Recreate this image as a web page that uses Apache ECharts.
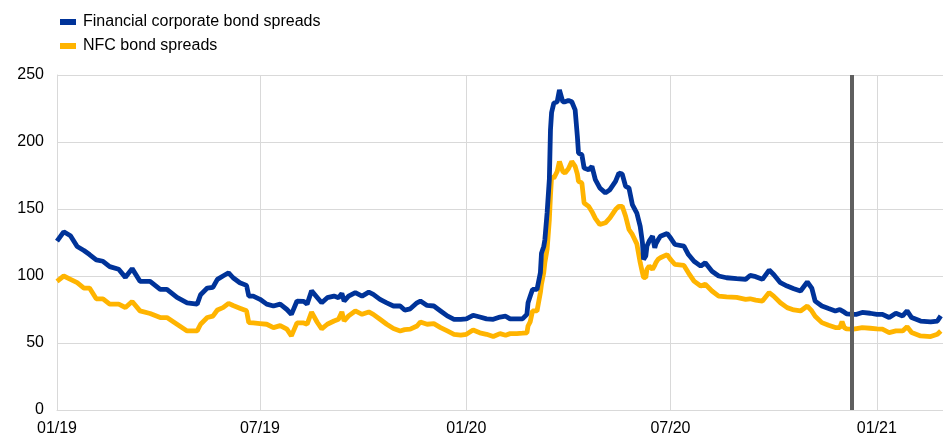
<!DOCTYPE html>
<html>
<head>
    <meta charset="utf-8">
    <title>Bond spreads</title>
    <script src="https://cdn.jsdelivr.net/npm/echarts@6/dist/echarts.min.js"></script>
    <style>
        * { margin: 0; padding: 0; }
        html, body { background: #fff; }
        #chart { width: 943px; height: 437px; }
    </style>
</head>
<body>
<div id="chart"></div>
<script>
    var dates = [
        '2019-01-01', '2019-01-07', '2019-01-13', '2019-01-19', '2019-01-25', '2019-01-30',
        '2019-02-05', '2019-02-11', '2019-02-17', '2019-02-25', '2019-03-03', '2019-03-09',
        '2019-03-16', '2019-03-25', '2019-04-03', '2019-04-09', '2019-04-18', '2019-04-27',
        '2019-05-06', '2019-05-09', '2019-05-15', '2019-05-20', '2019-05-24', '2019-05-29',
        '2019-06-03', '2019-06-07', '2019-06-13', '2019-06-19', '2019-06-21', '2019-06-25',
        '2019-07-01', '2019-07-07', '2019-07-13', '2019-07-19', '2019-07-25', '2019-07-29',
        '2019-08-03', '2019-08-09', '2019-08-12', '2019-08-16', '2019-08-21', '2019-08-25',
        '2019-08-30', '2019-09-05', '2019-09-09', '2019-09-12', '2019-09-14', '2019-09-18',
        '2019-09-24', '2019-09-30', '2019-10-06', '2019-10-10', '2019-10-16', '2019-10-22',
        '2019-10-28', '2019-11-03', '2019-11-07', '2019-11-12', '2019-11-18', '2019-11-21',
        '2019-11-27', '2019-12-03', '2019-12-09', '2019-12-15', '2019-12-21', '2019-12-27',
        '2020-01-01', '2020-01-07', '2020-01-13', '2020-01-19', '2020-01-25', '2020-01-31',
        '2020-02-05', '2020-02-09', '2020-02-15', '2020-02-20', '2020-02-24', '2020-02-25',
        '2020-02-27', '2020-02-29', '2020-03-04', '2020-03-07', '2020-03-08', '2020-03-10',
        '2020-03-11', '2020-03-13', '2020-03-15', '2020-03-16', '2020-03-17', '2020-03-19',
        '2020-03-22', '2020-03-24', '2020-03-27', '2020-03-29', '2020-04-01', '2020-04-04',
        '2020-04-07', '2020-04-09', '2020-04-10', '2020-04-13', '2020-04-15', '2020-04-19',
        '2020-04-22', '2020-04-25', '2020-04-29', '2020-05-04', '2020-05-08', '2020-05-13',
        '2020-05-16', '2020-05-19', '2020-05-22', '2020-05-25', '2020-05-28', '2020-06-01',
        '2020-06-04', '2020-06-06', '2020-06-07', '2020-06-09', '2020-06-10', '2020-06-12',
        '2020-06-15', '2020-06-17', '2020-06-18', '2020-06-20', '2020-06-22', '2020-06-28',
        '2020-07-01', '2020-07-05', '2020-07-13', '2020-07-17', '2020-07-22', '2020-07-28',
        '2020-08-01', '2020-08-07', '2020-08-13', '2020-08-20', '2020-08-29', '2020-09-06',
        '2020-09-10', '2020-09-15', '2020-09-21', '2020-09-27', '2020-10-01', '2020-10-07',
        '2020-10-13', '2020-10-19', '2020-10-25', '2020-10-31', '2020-11-04', '2020-11-07',
        '2020-11-13', '2020-11-19', '2020-11-25', '2020-11-29', '2020-12-01', '2020-12-03',
        '2020-12-05', '2020-12-11', '2020-12-14', '2020-12-19', '2020-12-26', '2021-01-01',
        '2021-01-06', '2021-01-12', '2021-01-18', '2021-01-24', '2021-01-28', '2021-02-01',
        '2021-02-09', '2021-02-18', '2021-02-24', '2021-02-27'
    ];

    var financialSpreads = [
        126, 133, 130, 122, 119, 116,
        112, 111, 107, 105, 99, 105.5,
        96, 96, 90, 90, 84, 80,
        79, 86, 91, 91.5, 97.5, 100,
        102.4, 98.7, 95, 93, 85, 85,
        82.6, 79, 77.6, 79, 75, 71.4,
        81.3, 81, 79, 89, 84, 80,
        83.8, 85, 83.8, 87, 81.3, 85,
        87.6, 85, 88, 86.3, 82.6, 80,
        77.6, 77.6, 74.6, 75.5, 80, 81.3,
        78, 77.6, 73.9, 70.2, 67.7, 67.6,
        68, 70.7, 69.4, 68, 67.7, 69.4,
        70, 68, 68, 68, 71.4, 80,
        85, 90, 90, 102.4, 117, 122,
        127, 147, 172, 209, 222, 229,
        230, 238.8, 230, 230, 231, 230,
        224, 204, 191.7, 190.5, 180.6, 179.3,
        181.8, 171.9, 165.7, 162, 164.4, 170.6,
        176.8, 176, 166.9, 165.7, 153.3, 147,
        137, 125, 112.4, 115, 122.3, 126,
        129.7, 121, 124, 127, 129.7, 131.7,
        128.5, 123.5, 122.3, 116, 111, 107.4,
        109.9, 103.6, 100, 98.7, 98, 97.5,
        100.4, 99.5, 97.5, 104.4, 101.2, 95,
        92.5, 90.5, 88.8, 95.5, 91, 81.3,
        77.6, 75.7, 73.9, 75, 74, 73,
        71.8, 71.4, 71.4, 72.8, 72.2, 71.4,
        71.4, 69, 72.2, 70.2, 73.9, 69,
        66.4, 65.7, 66.4, 70.2
    ];

    var nfcSpreads = [
        96, 100, 97.5, 95, 91, 91,
        83, 83, 79, 79, 76.5, 81,
        74, 72, 69, 69, 64, 59,
        59, 64, 69, 70, 74.6, 76.4,
        79.6, 78, 76, 74, 65.2, 65,
        64.5, 64, 61.5, 63, 60.3, 55.3,
        65, 65, 64, 73, 65.5, 60.5,
        64, 66.4, 67.7, 73.2, 66.4, 70.2,
        73.9, 71.4, 73.2, 71.4, 67.7, 64,
        60.8, 59, 60, 60.3, 62.7, 65.7,
        64, 64.5, 61.5, 59, 56.5, 55.8,
        56.5, 59.7, 57.6, 56.5, 54.8, 57,
        55.8, 57, 57, 57.3, 57.6, 62.7,
        66, 73.9, 73.9, 87.6, 94, 102.4,
        110, 119.8, 142, 160, 174, 173,
        178, 185.5, 178, 176.8, 180, 185.5,
        181.8, 176, 170.6, 169.4, 154.5, 152,
        148, 143, 138.4, 139.7, 143.4, 149.6,
        152, 152, 144.6, 134.7, 131, 124,
        110, 102.4, 99, 98.7, 105, 107.4,
        105, 108, 110, 112.5, 113.6, 116,
        112.4, 108.6, 107.9, 102.4, 96.2, 92.5,
        93.8, 88.8, 85, 84.5, 84, 82.6,
        83, 82, 81.3, 87.6, 85, 80,
        76.4, 74.7, 73.9, 77.6, 73.9, 70,
        65.2, 63.2, 61.5, 61.5, 66, 61.5,
        60.5, 60.3, 60.8, 61.5, 61, 60.5,
        60.3, 57.8, 59, 59, 62.2, 57.8,
        55.3, 54.8, 56.5, 59
    ];

    var seriesNames = ['Financial corporate bond spreads', 'NFC bond spreads'];
    var tickDates = ['2019-01-01', '2019-07-01', '2020-01-01', '2020-07-01', '2021-01-01'];
    var eventDate = '2020-12-10';
    var startDate = '2019-01-01';
    var endDate = '2021-03-01';

    function ts(s) {
        return echarts.number.parseDate(s).getTime();
    }

    function pairs(vals) {
        var out = [];
        for (var i = 0; i < dates.length; i++) {
            out.push([ts(dates[i]), vals[i]]);
        }
        return out;
    }

    function monthLabel(v) {
        var d = new Date(v);
        var m = d.getMonth() + 1;
        return (m < 10 ? '0' + m : '' + m) + '/' + String(d.getFullYear()).slice(2);
    }

    var tickValues = tickDates.map(ts);

    var chart = echarts.init(document.getElementById('chart'));

    var option = {
        animation: false,
        textStyle: { fontFamily: 'Liberation Sans, Arial, sans-serif' },
        legend: {
            left: 55,
            top: 9,
            orient: 'vertical',
            icon: 'rect',
            itemWidth: 16,
            itemHeight: 6,
            itemGap: 8,
            textStyle: { fontSize: 16, color: '#000', padding: [0, 0, 0, 2] },
            data: seriesNames
        },
        grid: { left: 57, right: 0, top: 75, bottom: 26 },
        xAxis: {
            type: 'value',
            min: ts(startDate),
            max: ts(endDate),
            axisLine: { lineStyle: { color: '#d9d9d9' } },
            axisTick: { show: false, customValues: tickValues },
            axisLabel: {
                fontSize: 16,
                color: '#000',
                margin: 11,
                customValues: tickValues,
                formatter: monthLabel
            },
            splitLine: { show: true, lineStyle: { color: '#d9d9d9' } }
        },
        yAxis: {
            type: 'value',
            min: 0,
            max: 250,
            interval: 50,
            axisLine: { show: true, lineStyle: { color: '#d9d9d9' } },
            axisTick: { show: false },
            axisLabel: { fontSize: 16, color: '#000', margin: 13 },
            splitLine: { lineStyle: { color: '#d9d9d9' } }
        },
        series: [
            {
                name: seriesNames[0],
                type: 'line',
                showSymbol: false,
                z: 3,
                itemStyle: { color: '#003399' },
                lineStyle: { color: '#003399', width: 4.8 },
                data: pairs(financialSpreads),
                markLine: {
                    silent: true,
                    symbol: ['none', 'none'],
                    label: { show: false },
                    lineStyle: { color: '#5f5f5f', width: 4, type: 'solid' },
                    data: [{ xAxis: ts(eventDate) }]
                }
            },
            {
                name: seriesNames[1],
                type: 'line',
                showSymbol: false,
                z: 2,
                itemStyle: { color: '#ffb400' },
                lineStyle: { color: '#ffb400', width: 4.8 },
                data: pairs(nfcSpreads)
            }
        ]
    };

    chart.setOption(option);
</script>
</body>
</html>
